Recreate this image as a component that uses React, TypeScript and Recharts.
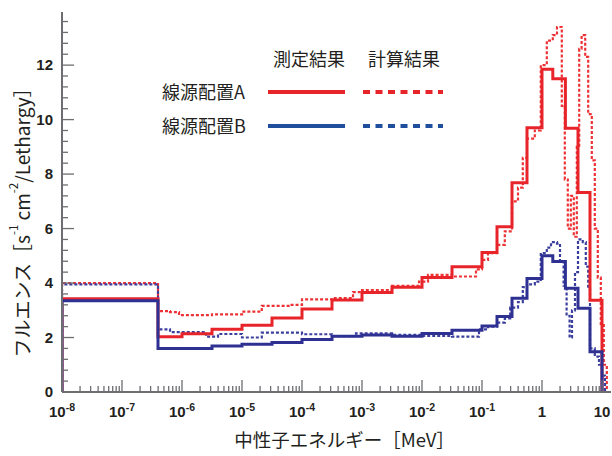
import { LineChart, Line, XAxis, YAxis, Label } from 'recharts'

// bin edges are log10(E / MeV); values are fluence per lethargy
const measEdges = [-8, -6.4, -6, -5.5, -5, -4.5, -4, -3.5, -3, -2.5, -2, -1.5, -1, -0.75, -0.5, -0.25, 0, 0.18, 0.39, 0.6, 0.8, 1.0]
const measA = [3.42, 2.03, 2.14, 2.3, 2.45, 2.72, 3.05, 3.38, 3.65, 3.85, 4.2, 4.6, 5.12, 6.07, 7.68, 9.7, 11.85, 11.5, 9.68, 7.32, 3.37]
const measB = [3.35, 1.6, 1.6, 1.69, 1.75, 1.82, 1.93, 2.05, 2.09, 2.05, 2.15, 2.27, 2.42, 2.77, 3.44, 4.17, 5.0, 4.79, 3.81, 3.07, 1.48]

const calcAEdges = [-8, -6.4, -6.2, -6.05, -5.5, -5.0, -4.67, -4.2, -4.0, -3.5, -3.15, -3.0, -2.5, -2.05, -1.9, -1.5, -1.1, -1.0, -0.9, -0.75, -0.62, -0.5, -0.4, -0.32, -0.25, -0.12, -0.02, 0.08, 0.18, 0.25, 0.33, 0.38, 0.43, 0.48, 0.53, 0.58, 0.62, 0.66, 0.72, 0.77, 0.83, 0.88, 0.93, 0.98, 1.03, 1.08]
const calcA = [4.0, 2.97, 2.93, 2.82, 2.85, 2.95, 3.16, 3.2, 3.4, 3.45, 3.67, 3.74, 3.9, 4.05, 4.3, 4.24, 4.5, 4.85, 5.1, 5.4, 5.9, 7.0, 7.5, 8.6, 9.3, 9.6, 12.0, 12.9, 13.1, 13.4, 10.5, 7.8, 6.0, 7.2, 5.7, 9.0, 12.6, 13.1, 12.3, 10.2, 8.5, 6.0, 4.2, 2.5, 1.0]

const calcBEdges = [-8, -6.4, -6.2, -5.6, -5.4, -5.0, -4.67, -4.0, -3.5, -3.1, -2.5, -2.0, -1.5, -1.05, -0.9, -0.75, -0.62, -0.53, -0.4, -0.32, -0.25, -0.12, -0.02, 0.08, 0.15, 0.25, 0.3, 0.36, 0.41, 0.46, 0.5, 0.55, 0.6, 0.68, 0.73, 0.77, 0.8, 0.88, 0.95, 1.0, 1.05]
const calcB = [3.95, 2.3, 2.2, 2.03, 2.13, 2.0, 2.18, 2.12, 2.05, 2.15, 2.1, 2.06, 2.03, 2.3, 2.4, 2.55, 2.7, 3.1, 3.3, 3.85, 3.95, 4.05, 5.1, 5.3, 5.5, 5.45, 4.8, 3.9, 2.8, 2.0, 3.0, 4.4, 5.6, 5.5, 4.6, 3.8, 1.6, 1.3, 1.0, 0.6]

const decadeExps = [-8, -7, -6, -5, -4, -3, -2, -1, 0, 1]
const minorMults = [2, 3, 4, 5, 6, 7, 8, 9]
const yMajor = [0, 2, 4, 6, 8, 10, 12]

const legendCols = ['測定結果', '計算結果']
const legendRows = ['線源配置A', '線源配置B']

const RED = '#e8242b'
const RED_DASH = '#ee3135'
const BLUE = '#2e3192'
const BLUE_DASH = '#3a3f9e'
const LEG_BLUE = '#1f4e9c'
const AXIS = '#6d6e71'
const FONT_JP = "'Noto Sans CJK JP', 'Noto Sans', sans-serif"
const FONT_NUM = "'Liberation Sans', Arial, sans-serif"

const X_DOMAIN = [1e-8, Math.pow(10, 1.15)]
const Y_DOMAIN = [0, 13.95]

function toSteps(edges: number[], values: number[]) {
  const pts = [{ e: Math.pow(10, edges[0]), v: 0 }]
  values.forEach((v, i) => pts.push({ e: Math.pow(10, edges[i]), v }))
  pts.push({ e: Math.pow(10, edges[edges.length - 1]), v: 0 })
  return pts
}

const xTicks: number[] = []
decadeExps.forEach((d) => {
  xTicks.push(Math.pow(10, d))
  if (d < 1) minorMults.forEach((m) => xTicks.push(m * Math.pow(10, d)))
})
const yTicks: number[] = []
for (let i = 0; i * 0.4 <= 13.6 + 1e-9; i++) yTicks.push(+(i * 0.4).toFixed(1))

function XTick(props: any) {
  const { x, y, payload } = props
  const ex = Math.log10(payload.value)
  const n = Math.round(ex)
  const major = Math.abs(ex - n) < 1e-6
  return (
    <g>
      <line x1={x} x2={x} y1={y} y2={y - (major ? 12 : 6)} stroke={AXIS} strokeWidth={1.3} />
      {major && (
        <text x={x} y={y + 25} textAnchor="middle" fontFamily={FONT_NUM} fontWeight="bold" fontSize={15} fill="#231f20">
          {n === 0 ? '1' : n === 1 ? '10' : (
            <>
              <tspan>10</tspan>
              <tspan dy={-6} fontSize={10.5}>{n}</tspan>
            </>
          )}
        </text>
      )}
    </g>
  )
}

function YTick(props: any) {
  const { x, y, payload } = props
  const v = payload.value
  const major = yMajor.some((m) => Math.abs(m - v) < 1e-6)
  return (
    <g>
      <line x1={x} x2={x + (major ? 12 : 6)} y1={y} y2={y} stroke={AXIS} strokeWidth={1.3} />
      {major && (
        <text x={x - 9} y={y} dy={5} textAnchor="end" fontFamily={FONT_NUM} fontWeight="bold" fontSize={15} fill="#231f20">
          {Math.round(v)}
        </text>
      )}
    </g>
  )
}

function YTitle(props: any) {
  const vb = props.viewBox
  const cx = vb.x + 21
  const cy = vb.y + vb.height / 2 + 16
  return (
    <text x={cx} y={cy} transform={`rotate(-90 ${cx} ${cy})`} textAnchor="middle" dominantBaseline="central" fontFamily={FONT_JP} fontSize={19} fill="#231f20">
      フルエンス［s<tspan baselineShift="super" fontSize={11.5}>-1</tspan> cm<tspan baselineShift="super" fontSize={11.5}>-2</tspan>/Lethargy］
    </text>
  )
}

function XTitle(props: any) {
  const vb = props.viewBox
  return (
    <text x={vb.x + vb.width / 2 + 8} y={vb.y + 55} textAnchor="middle" fontFamily={FONT_JP} fontSize={18.5} fill="#231f20">
      中性子エネルギー［MeV］
    </text>
  )
}

function LegendOverlay() {
  const colX = [273, 368]
  const rowY = [92, 126]
  const lines = [
    [RED, RED],
    [LEG_BLUE, LEG_BLUE],
  ]
  return (
    <svg width={612} height={456} style={{ position: 'absolute', left: 0, top: 0, pointerEvents: 'none' }}>
      {legendCols.map((c, i) => (
        <text key={c} x={colX[i]} y={66} fontFamily={FONT_JP} fontSize={18} fill="#231f20">{c}</text>
      ))}
      {legendRows.map((r, j) => (
        <g key={r}>
          <text x={162} y={rowY[j] + 7} fontFamily={FONT_JP} fontSize={18} fill="#231f20">{r}</text>
          <line x1={268} x2={345} y1={rowY[j]} y2={rowY[j]} stroke={lines[j][0]} strokeWidth={4} />
          <line x1={363} x2={443} y1={rowY[j]} y2={rowY[j]} stroke={lines[j][1]} strokeWidth={4} strokeDasharray="7 5.5" />
        </g>
      ))}
    </svg>
  )
}

export default function App() {
  return (
    <div style={{ position: 'absolute', left: 0, top: 0, width: 612, height: 456, background: '#fff' }}>
      <LineChart width={612} height={456} margin={{ top: 12, right: 1, bottom: 0, left: 0 }}>
        <XAxis
          dataKey="e"
          type="number"
          scale="log"
          domain={X_DOMAIN}
          allowDataOverflow
          ticks={xTicks}
          interval={0}
          tick={<XTick />}
          tickLine={false}
          tickSize={0}
          tickMargin={0}
          height={64}
          axisLine={{ stroke: AXIS, strokeWidth: 2 }}
        >
          <Label content={<XTitle />} />
        </XAxis>
        <XAxis
          xAxisId="top"
          orientation="top"
          type="number"
          scale="log"
          domain={X_DOMAIN}
          allowDataOverflow
          tick={false}
          tickLine={false}
          height={0}
          axisLine={{ stroke: '#8a8a8a', strokeWidth: 2 }}
        />
        <YAxis
          type="number"
          domain={Y_DOMAIN}
          allowDataOverflow
          ticks={yTicks}
          interval={0}
          tick={<YTick />}
          tickLine={false}
          tickSize={0}
          tickMargin={0}
          width={62}
          axisLine={{ stroke: AXIS, strokeWidth: 2 }}
        >
          <Label content={<YTitle />} />
        </YAxis>
        <Line data={toSteps(calcAEdges, calcA)} dataKey="v" type="stepAfter" stroke={RED_DASH} strokeWidth={2.2} strokeDasharray="3 2" dot={false} isAnimationActive={false} />
        <Line data={toSteps(calcBEdges, calcB)} dataKey="v" type="stepAfter" stroke={BLUE_DASH} strokeWidth={2.2} strokeDasharray="3 2" dot={false} isAnimationActive={false} />
        <Line data={toSteps(measEdges, measA)} dataKey="v" type="stepAfter" stroke={RED} strokeWidth={3} dot={false} isAnimationActive={false} />
        <Line data={toSteps(measEdges, measB)} dataKey="v" type="stepAfter" stroke={BLUE} strokeWidth={3} dot={false} isAnimationActive={false} />
      </LineChart>
      <LegendOverlay />
    </div>
  )
}
